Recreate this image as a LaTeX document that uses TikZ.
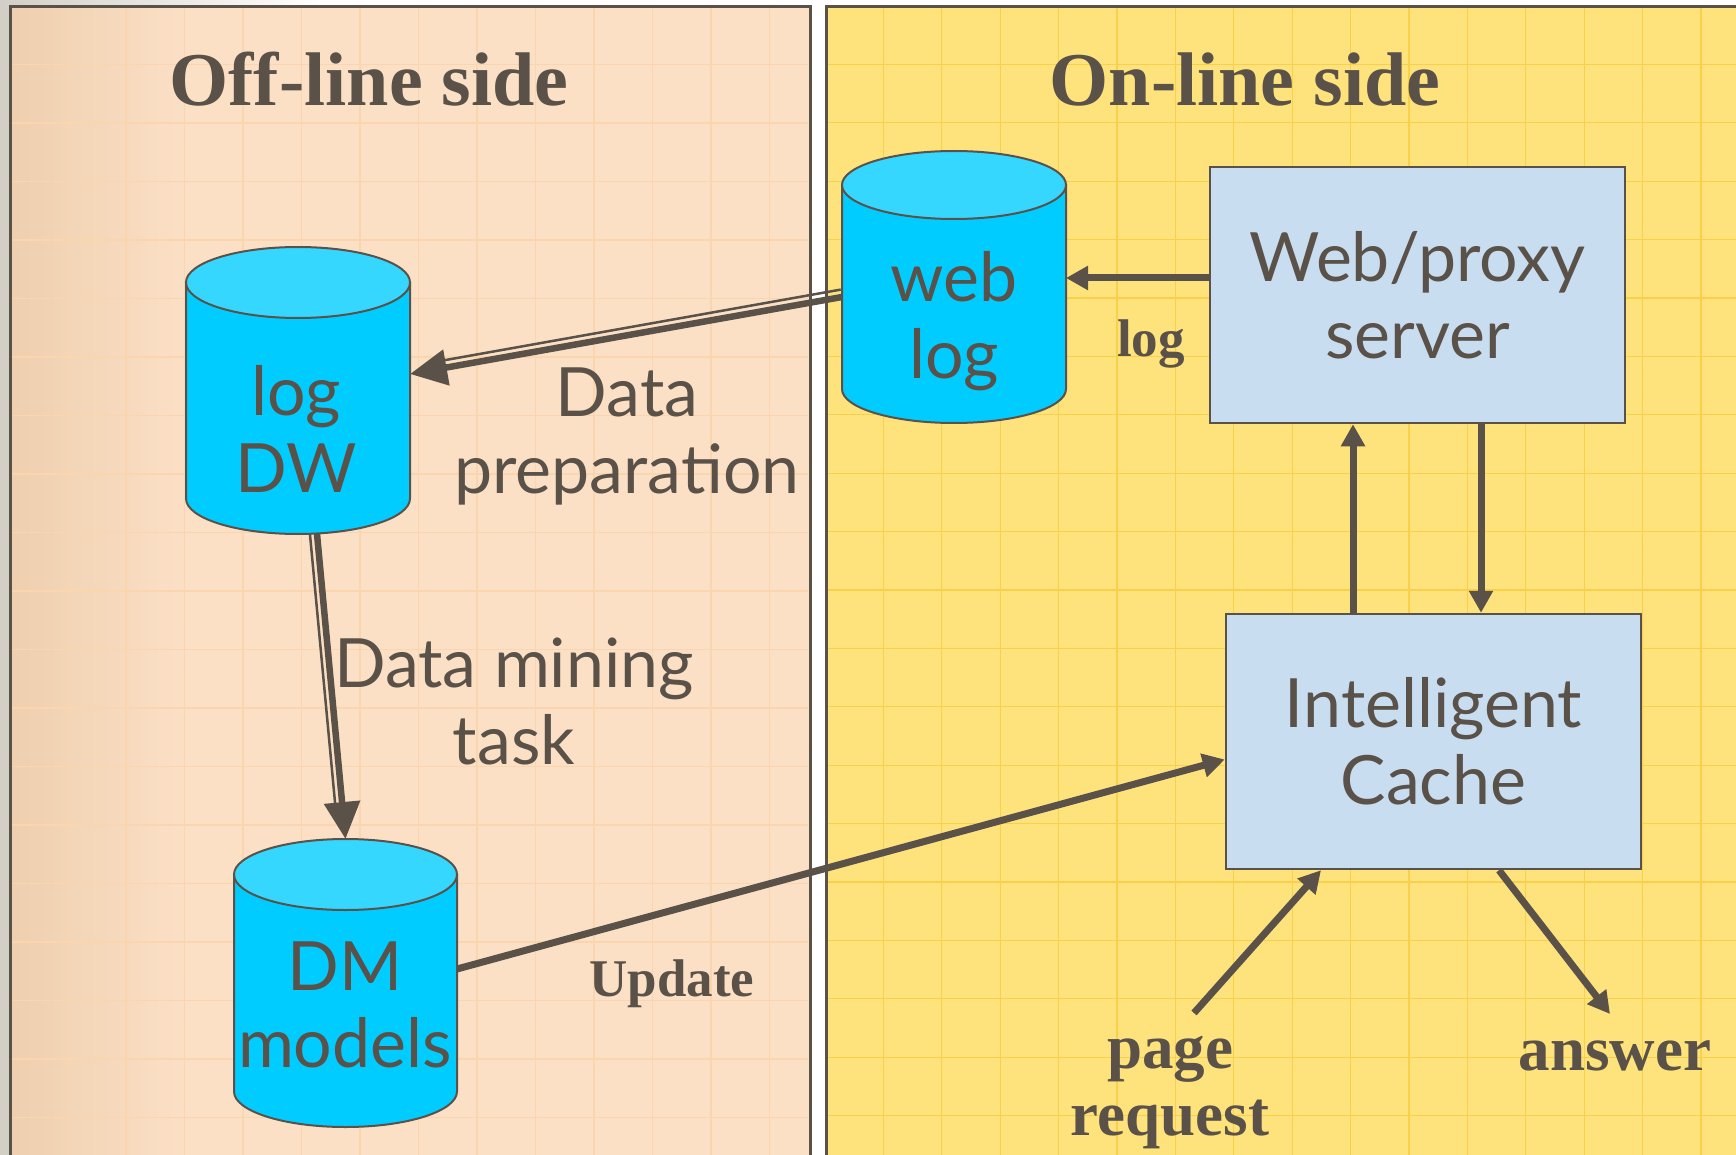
\documentclass[tikz,border=0pt]{standalone}
\usepackage{fontspec}
\setmainfont{Liberation Serif}
\newfontfamily\handfont{Lato}
\usetikzlibrary{arrows.meta}

\definecolor{ink}{HTML}{5A5149}
\definecolor{peach}{HTML}{FCE0C6}
\definecolor{tan}{HTML}{EECFAF}
\definecolor{peachgrid}{HTML}{FAD5AE}
\definecolor{sun}{HTML}{FEE27C}
\definecolor{sungrid}{HTML}{F8D04A}
\definecolor{cyltop}{HTML}{35D7FF}
\definecolor{cylbody}{HTML}{00CCFF}
\definecolor{boxblue}{HTML}{C9DDF0}
\definecolor{frame}{HTML}{D3CFC7}

% database drawn as a cylinder: centre x, top y, bottom y (downwards), radii
\newcommand\cylshape[5]{%
  \filldraw[cylline, fill=cylbody]
    ({#1-#4},{-(#2)-#5}) -- ({#1-#4},{-(#3)+#5})
    arc[start angle=180, end angle=360, x radius=#4, y radius=#5]
    -- ({#1+#4},{-(#2)-#5}) -- cycle;
  \filldraw[cylline, fill=cyltop] (#1,{-(#2)-#5}) ellipse[x radius=#4, y radius=#5];
}

\begin{document}
\begin{tikzpicture}[x=1pt, y=1pt,
  cylline/.style={draw=ink, line width=2pt},
  area/.style={rectangle, inner sep=0pt, outer sep=0pt},
  boxnode/.style={rectangle, draw=ink, line width=2.5pt, fill=boxblue, inner sep=0pt,
    text=ink, align=center, font=\handfont\fontsize{68}{77}\selectfont},
  hand/.style={text=ink, align=center, inner sep=0pt,
    font=\handfont\fontsize{68}{77}\selectfont},
  title/.style={text=ink, inner sep=0pt, font=\bfseries\fontsize{76}{80}\selectfont},
  tag/.style={text=ink, inner sep=0pt, font=\bfseries\fontsize{53}{60}\selectfont},
  bigtag/.style={text=ink, inner sep=0pt, align=center, font=\bfseries\fontsize{63}{67}\selectfont},
  conn/.style={draw=ink, line width=7pt},
  heavy/.style={draw=ink, line width=6.5pt},
  hairline/.style={draw=ink, line width=2.5pt, shorten >=34pt},
  smalltip/.style={-{Triangle[length=22pt, width=23pt]}},
  bigtip/.style={-{Triangle[length=37pt, width=35pt]}},
  gridline/.style={line width=1.3pt}
]
\useasboundingbox (0,0) rectangle (1736,-1155);
\clip (0,0) rectangle (1736,-1155);

% surroundings
\fill[white] (0,0) rectangle (1736,-1155);
\fill[frame] (0,0) rectangle (10,-1155);
\shade[left color=frame, right color=white] (0,0) rectangle (320,-7);

% off-line panel with its graph-paper grid
\fill[peach] (10,-7) rectangle (810,-1170);
\shade[left color=tan, right color=peach] (10,-7) rectangle (190,-1170);
\foreach \k in {1,...,13} \draw[peachgrid, gridline] ({9+58.5*\k},-7) -- ({9+58.5*\k},-1160);
\foreach \k in {1,...,19} \draw[peachgrid, gridline] (10,{-6-58.5*\k}) -- (808,{-6-58.5*\k});
\draw[draw=ink, line width=3pt] (10,-1170) -- (10,-7) -- (810,-7) -- (810,-1170);

% on-line panel with its grid
\fill[sun] (826,-7) rectangle (1750,-1170);
\foreach \k in {1,...,15} \draw[sungrid, gridline] ({825+58.4*\k},-7) -- ({825+58.4*\k},-1160);
\foreach \k in {1,...,19} \draw[sungrid, gridline] (828,{-6-58.4*\k}) -- (1740,{-6-58.4*\k});
\draw[draw=ink, line width=3pt] (826,-1170) -- (826,-7) -- (1750,-7);

% titles
\node[title, anchor=base] (offtitle) at (369,-106) {Off-line side};
\node[title, anchor=base] (ontitle) at (1245,-106) {On-line side};

% databases
\cylshape{298}{247}{534}{112}{35.5}
\node[area, minimum width=224pt, minimum height=287pt] (logdw) at (298,-390.5) {};
\node[hand, anchor=base] (logdwtext) at (296,-492) {log\\DW};

\cylshape{954}{151}{423}{112}{34}
\node[area, minimum width=224pt, minimum height=272pt] (weblog) at (954,-287) {};
\node[hand, anchor=base] (weblogtext) at (954,-378) {web\\log};

\cylshape{345.5}{839}{1127}{111.5}{35.5}
\node[area, minimum width=223pt, minimum height=288pt] (dm) at (345.5,-983) {};
\node[hand, anchor=base] (dmtext) at (345,-1067) {DM\\models};

% server and cache
\node[boxnode, minimum width=415pt, minimum height=256pt] (server) at (1417.5,-295) {Web/proxy\\server};
\node[boxnode, minimum width=415pt, minimum height=255pt] (cache) at (1433.5,-741.5) {Intelligent\\Cache};

% labels
\node[hand, anchor=base] (preptext) at (627,-493) {Data\\preparation};
\node[hand, anchor=base] (minetext) at (514,-764) {Data mining\\task};
\node[tag, anchor=base] (logtag) at (1151,-356) {log};
\node[tag, anchor=base] (updtag) at (672,-996) {Update};
\node[bigtag, anchor=base] (reqtag) at (1170,-1135) {page\\request};
\node[bigtag, anchor=base] (anstag) at (1615,-1070) {answer};

% data preparation: web log to log DW
\draw[heavy, bigtip] ([yshift=-10pt]weblog.west) -- ([yshift=16.5pt]logdw.east);
\draw[hairline, transform canvas={shift={(-1.3,7.4)}}]
  ([yshift=-10pt]weblog.west) -- ([yshift=16.5pt]logdw.east);

% data mining task: log DW to DM models
\draw[heavy, bigtip] ([xshift=19pt]logdw.south) -- (dm.north);
\draw[hairline, transform canvas={shift={(-7,-0.7)}}]
  ([xshift=19pt]logdw.south) -- (dm.north);

% on-line flow
\draw[conn, smalltip] ([yshift=17pt]server.west) -- ([yshift=9pt]weblog.east);
\coordinate (upx) at (1353,0);
\coordinate (downx) at (1481,0);
\draw[conn, smalltip] (cache.north -| upx) -- (server.south -| upx);
\draw[conn, smalltip] (server.south -| downx) -- (cache.north -| downx);
\draw[conn, smalltip] ([yshift=14pt]dm.east) -- ([yshift=-18pt]cache.west);
\coordinate (reqtail) at (1194,-1013);
\coordinate (anshead) at (1610,-1014);
\draw[conn, smalltip] (reqtail) -- ([xshift=-112.5pt]cache.south);
\draw[conn, smalltip] ([xshift=65.5pt]cache.south) -- (anshead);
\end{tikzpicture}
\end{document}
